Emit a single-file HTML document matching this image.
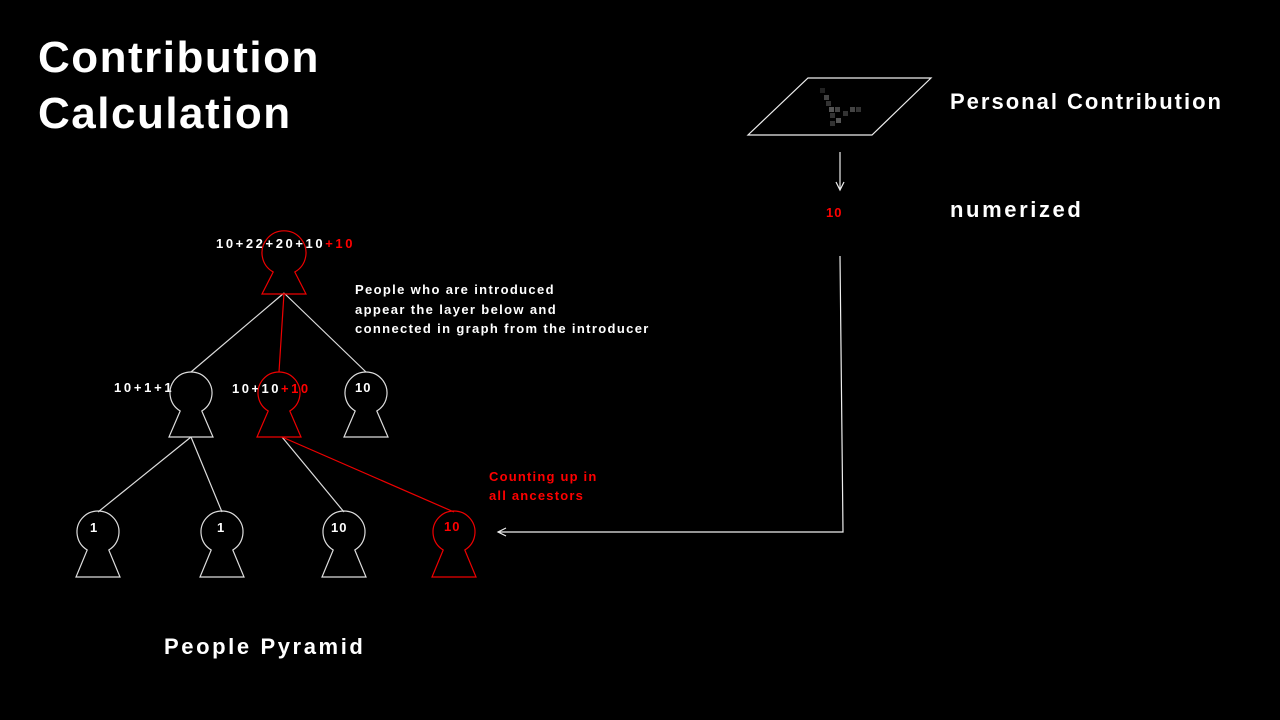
<!DOCTYPE html>
<html><head><meta charset="utf-8"><style>
html,body{margin:0;padding:0;background:#000;}
body{width:1280px;height:720px;overflow:hidden;position:relative;font-family:"Liberation Sans",sans-serif;font-weight:bold;color:#fff;}
.t{position:absolute;white-space:nowrap;}
.r{color:#f00;}
</style></head><body>
<div class="t" style="left:38px;top:30px;font-size:44px;line-height:56px;letter-spacing:1.5px;">Contribution<br>Calculation</div>
<div class="t" style="left:950px;top:89px;font-size:22px;letter-spacing:2px;">Personal Contribution</div>
<div class="t" style="left:950px;top:197px;font-size:22px;letter-spacing:2.6px;">numerized</div>
<div class="t r" style="left:826px;top:205px;font-size:13px;letter-spacing:1px;">10</div>
<div class="t" style="left:164px;top:634px;font-size:22px;letter-spacing:2.6px;">People Pyramid</div>
<div class="t" style="left:355px;top:280px;font-size:13px;line-height:19.5px;letter-spacing:1.35px;">People who are introduced<br>appear the layer below and<br>connected in graph from the introducer</div>
<div class="t r" style="left:489px;top:467px;font-size:13px;line-height:19px;letter-spacing:1.2px;">Counting up in<br>all ancestors</div>
<div class="t" style="left:216px;top:236px;font-size:13px;letter-spacing:2.6px;">10+22+20+10<span class="r">+10</span></div>
<div class="t" style="left:114px;top:380px;font-size:13px;letter-spacing:2.7px;">10+1+1</div>
<div class="t" style="left:232px;top:381px;font-size:13px;letter-spacing:2.5px;">10+10<span class="r">+10</span></div>
<div class="t" style="left:355px;top:380px;font-size:13px;letter-spacing:1px;">10</div>
<div class="t" style="left:90px;top:520px;font-size:13px;">1</div>
<div class="t" style="left:217px;top:520px;font-size:13px;">1</div>
<div class="t" style="left:331px;top:520px;font-size:13px;letter-spacing:1px;">10</div>
<div class="t r" style="left:444px;top:519px;font-size:13px;letter-spacing:1px;">10</div>
<svg width="1280" height="720" style="position:absolute;left:0;top:0" fill="none" stroke-width="1.2">
<g stroke="#ddd">
<line x1="284" y1="293" x2="191" y2="372"/>
<line x1="284" y1="293" x2="366" y2="372"/>
<line x1="191" y1="437" x2="98" y2="512"/>
<line x1="191" y1="437" x2="222" y2="512"/>
<line x1="282" y1="437" x2="344" y2="512"/>
</g>
<g stroke="#e00">
<line x1="284" y1="293" x2="279" y2="372"/>
<line x1="282" y1="437" x2="454" y2="512"/>
</g>
<g stroke="#ddd">
<path d="M180.2,411 A21 21 0 1 1 201.8,411 L213,437 L169,437 Z"/>
<path d="M355.2,411 A21 21 0 1 1 376.8,411 L388,437 L344,437 Z"/>
<path d="M87.2,550 A21 21 0 1 1 108.8,550 L120,577 L76,577 Z"/>
<path d="M211.2,550 A21 21 0 1 1 232.8,550 L244,577 L200,577 Z"/>
<path d="M333.2,550 A21 21 0 1 1 354.8,550 L366,577 L322,577 Z"/>
</g>
<g stroke="#e00">
<path d="M273.2,272 A22 22 0 1 1 294.8,272 L306,294 L262,294 Z"/>
<path d="M268.2,411 A21 21 0 1 1 289.8,411 L301,437 L257,437 Z"/>
<path d="M443.2,550 A21 21 0 1 1 464.8,550 L476,577 L432,577 Z"/>
</g>
<g stroke="#eee">
<polygon points="808,78 931,78 872,135 748,135"/>
<line x1="840" y1="152" x2="840" y2="190"/>
<polyline points="836,182 840,190 844,182"/>
<polyline points="840,256 843,532 498,532"/>
<polyline points="506,528 498,532 506,536"/>
</g>
<g fill="#555" stroke="none">
<rect x="820" y="88" width="5" height="5" fill="#222"/>
<rect x="824" y="95" width="5" height="5" fill="#444"/>
<rect x="826" y="101" width="5" height="5" fill="#333"/>
<rect x="829" y="107" width="5" height="5"/>
<rect x="835" y="107" width="5" height="5" fill="#444"/>
<rect x="850" y="107" width="5" height="5" fill="#444"/>
<rect x="856" y="107" width="5" height="5" fill="#333"/>
<rect x="830" y="113" width="5" height="5" fill="#333"/>
<rect x="836" y="118" width="5" height="5"/>
<rect x="830" y="121" width="5" height="5" fill="#333"/>
<rect x="843" y="111" width="5" height="5" fill="#333"/>
</g>
</svg>
</body></html>
